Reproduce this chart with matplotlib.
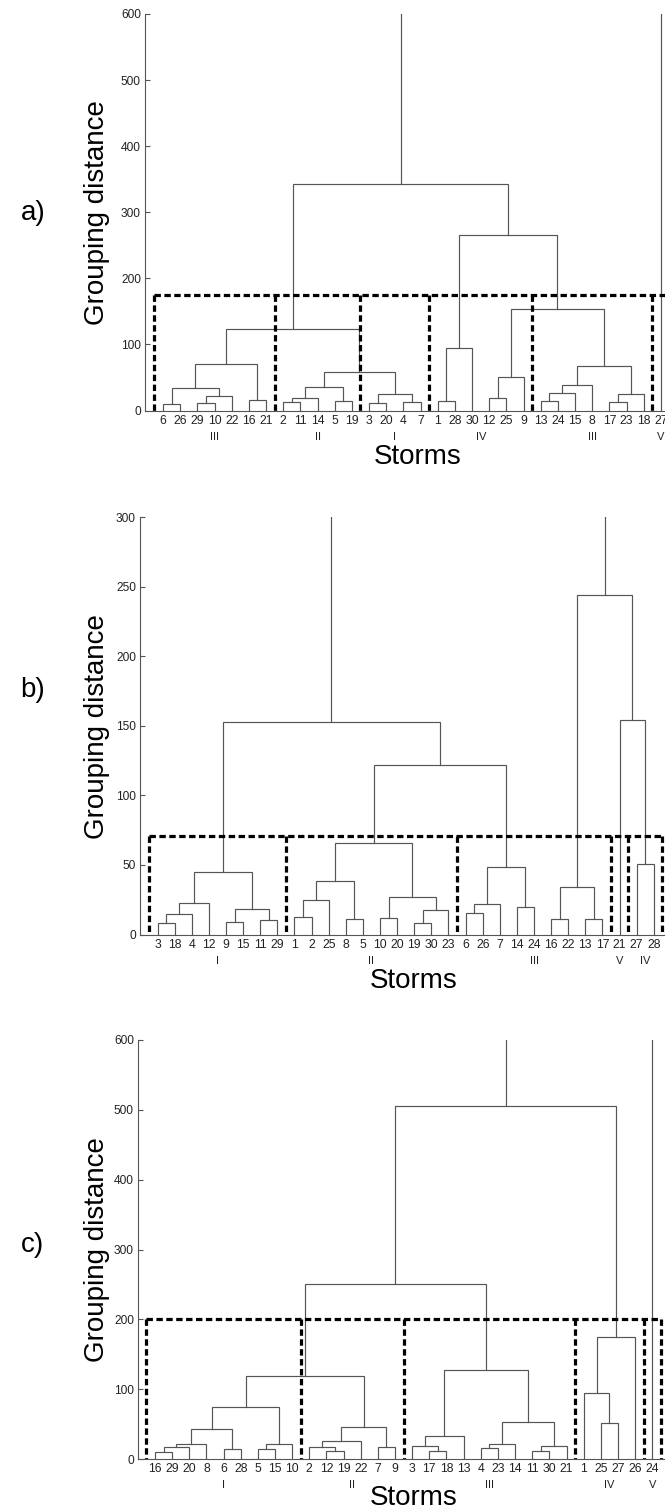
import matplotlib
matplotlib.use("Agg")
import matplotlib.pyplot as plt
import numpy as np

plt.rcParams['font.family'] = ['Liberation Sans', 'DejaVu Sans']

# ---------------- data ----------------
# panel a
leaves_a = [6, 26, 29, 10, 22, 16, 21, 2, 11, 14, 5, 19, 3, 20, 4, 7,
            1, 28, 30, 12, 25, 9, 13, 24, 15, 8, 17, 23, 18, 27]
merges_a = [(6, 26, 10), (29, 10, 11), ("m1", 22, 22), ("m0", "m2", 33.5),
            (16, 21, 16), ("m3", "m4", 70), (2, 11, 12.5), ("m6", 14, 19.5),
            (5, 19, 14.5), ("m7", "m8", 35), (3, 20, 11.5), (4, 7, 12.5),
            ("m10", "m11", 24.5), ("m9", "m12", 58.5), ("m5", "m13", 123.5),
            (1, 28, 14.5), ("m15", 30, 94), (12, 25, 19.5), ("m17", 9, 50.5),
            (13, 24, 14.5), ("m19", 15, 26.5), ("m20", 8, 38.5), (17, 23, 13.5),
            ("m22", 18, 25), ("m21", "m23", 67), ("m18", "m24", 153),
            ("m16", "m25", 265.5), ("m14", "m26", 343)]
roots_a = ["m27", 27]
cluster_names_a = ["III", "II", "I", "IV", "III", "V"]
cluster_sizes_a = [7, 5, 4, 6, 7, 1]
cut_a = 175
yticks_a = [0, 100, 200, 300, 400, 500, 600]

# panel b
leaves_b = [3, 18, 4, 12, 9, 15, 11, 29, 1, 2, 25, 8, 5, 10, 20, 19, 30, 23,
            6, 26, 7, 14, 24, 16, 22, 13, 17, 21, 27, 28]
merges_b = [(3, 18, 8.4), ("m0", 4, 14.6), ("m1", 12, 22.7), (9, 15, 9.1),
            (11, 29, 10.3), ("m3", "m4", 18.4), ("m2", "m5", 44.6),
            (1, 2, 12.4), ("m7", 25, 24.7), (8, 5, 10.8), ("m8", "m9", 38.8),
            (10, 20, 11.5), (19, 30, 8.4), ("m12", 23, 17.7), ("m11", "m13", 26.6),
            ("m10", "m14", 65.7), (6, 26, 15.8), ("m16", 7, 22), (14, 24, 19.9),
            ("m17", "m18", 48.6), ("m15", "m19", 121.8), ("m6", "m20", 153),
            (16, 22, 11.2), (13, 17, 11.2), ("m22", "m23", 34.2), (27, 28, 51),
            (21, "m25", 154), ("m24", "m26", 243.8)]
roots_b = ["m21", "m27"]
cluster_names_b = ["I", "II", "III", "V", "IV"]
cluster_sizes_b = [8, 10, 9, 1, 2]
cut_b = 71
yticks_b = [0, 50, 100, 150, 200, 250, 300]

# panel c
leaves_c = [16, 29, 20, 8, 6, 28, 5, 15, 10, 2, 12, 19, 22, 7, 9,
            3, 17, 18, 13, 4, 23, 14, 11, 30, 21, 1, 25, 27, 26, 24]
merges_c = [(16, 29, 10.6), ("m0", 20, 17.7), ("m1", 8, 21.5), (6, 28, 13.9),
            ("m2", "m3", 43), (5, 15, 14.9), ("m5", 10, 22), ("m4", "m6", 74.2),
            (12, 19, 12), (2, "m8", 17.2), ("m9", 22, 25.4), (7, 9, 17.2),
            ("m10", "m11", 45.5), ("m7", "m12", 119), (17, 18, 11.5),
            (3, "m14", 18.7), ("m15", 13, 33.5), (4, 23, 16.3), ("m17", 14, 22),
            (11, 30, 11.5), ("m19", 21, 19.2), ("m18", "m20", 53),
            ("m16", "m21", 127.3), ("m13", "m22", 250), (25, 27, 51.7),
            (1, "m24", 93.8), ("m25", 26, 175), ("m23", "m26", 505)]
roots_c = ["m27", 24]
cluster_names_c = ["I", "II", "III", "IV", "V"]
cluster_sizes_c = [9, 6, 10, 4, 1]
cut_c = 200
yticks_c = [0, 100, 200, 300, 400, 500, 600]

# ---------------- drawing ----------------
W, H = 665, 1512
fig = plt.figure(figsize=(W / 100, H / 100), dpi=100)
fig.patch.set_facecolor("white")

LC = "#555555"
PX = 72 / 100.0  # points per pixel


def add_axes(left, right, top, bottom):
    return fig.add_axes([left / W, 1 - bottom / H, (right - left) / W, (bottom - top) / H])


def dashed(ax, xs, ys):
    ln, = ax.plot(xs, ys, color="black", lw=2.3, zorder=3,
                  solid_capstyle="butt", dash_capstyle="butt")
    ln.set_dashes((2.0, 1.1))


def draw_panel(ax, leaves, merges, roots, names, sizes, cut, yticks, xlim, storms_off):
    ymax = yticks[-1]
    pos = {lf: float(i) for i, lf in enumerate(leaves)}
    hgt = {lf: 0.0 for lf in leaves}
    for k, (a, b, h) in enumerate(merges):
        xa, xb = pos[a], pos[b]
        ax.plot([xa, xa, xb, xb], [hgt[a], h, h, hgt[b]], color=LC, lw=0.85,
                solid_joinstyle="miter", zorder=2)
        pos["m%d" % k] = (xa + xb) / 2.0
        hgt["m%d" % k] = h
    for r in roots:
        ax.plot([pos[r], pos[r]], [hgt[r], ymax], color=LC, lw=0.85, zorder=2)

    # dashed cluster boxes: one top line, one vertical per boundary
    edges = np.concatenate([[0], np.cumsum(sizes)]) - 0.5
    dashed(ax, [edges[0], edges[-1]], [cut, cut])
    for e in edges:
        dashed(ax, [e, e], [cut, 0])
    # cluster names
    for nm, l, r in zip(names, edges[:-1], edges[1:]):
        ax.annotate(nm, xy=((l + r) / 2.0, 0), xycoords=("data", "axes fraction"),
                    xytext=(0, -26 * PX), textcoords="offset points",
                    ha="center", va="center", fontsize=8, color="#222222")

    ax.set_xlim(*xlim)
    ax.set_ylim(0, ymax)
    ax.set_xticks(range(len(leaves)))
    ax.set_xticklabels([str(v) for v in leaves], fontsize=8.8, color="#222222")
    ax.tick_params(axis="x", length=0, pad=3)
    ax.set_yticks(yticks)
    ax.set_yticklabels([str(v) for v in yticks], fontsize=8.6, color="#222222")
    ax.tick_params(axis="y", direction="in", length=3.6, width=0.8, color=LC, pad=3)
    for s in ["top", "right"]:
        ax.spines[s].set_visible(False)
    for s in ["left", "bottom"]:
        ax.spines[s].set_color(LC)
        ax.spines[s].set_linewidth(0.8)
    ax.annotate("Storms", xy=(0.5, 0), xycoords="axes fraction",
                xytext=(0, -storms_off * PX), textcoords="offset points",
                ha="center", va="center", fontsize=20, color="black")


ax_a = add_axes(145, 690, 14, 410.5)
draw_panel(ax_a, leaves_a, merges_a, roots_a, cluster_names_a, cluster_sizes_a,
           cut_a, yticks_a, (-1.05, 30.69), 46)
ax_b = add_axes(140, 688, 517, 934.5)
draw_panel(ax_b, leaves_b, merges_b, roots_b, cluster_names_b, cluster_sizes_b,
           cut_b, yticks_b, (-1.03, 31.0), 46)
ax_c = add_axes(138, 690, 1040, 1459)
draw_panel(ax_c, leaves_c, merges_c, roots_c, cluster_names_c, cluster_sizes_c,
           cut_c, yticks_c, (-0.99, 31.2), 39)

for yc in [213, 727, 1250]:
    fig.text(97 / W, 1 - yc / H, "Grouping distance", rotation=90, fontsize=20,
             ha="center", va="center")
for lab, yc in [("a)", 213), ("b)", 690), ("c)", 1245)]:
    fig.text(33 / W, 1 - yc / H, lab, fontsize=20, ha="center", va="center")

fig.savefig("out.png", dpi=100, facecolor="white")
